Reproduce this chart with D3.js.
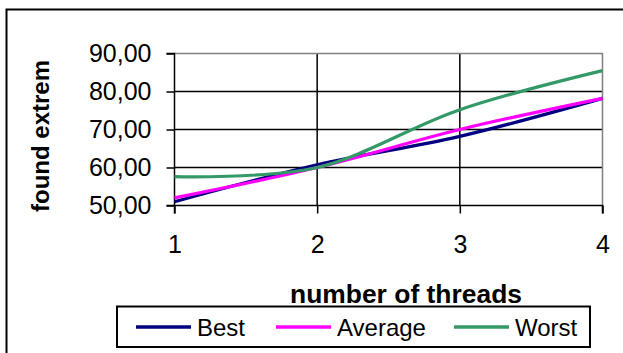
<!DOCTYPE html>
<html><head><meta charset="utf-8">
<script src="https://cdn.jsdelivr.net/npm/d3@7"></script>
<style>html,body{margin:0;padding:0;background:#fff;overflow:hidden}svg{display:block}text{font-family:"Liberation Sans",Arial,sans-serif}</style>
</head><body>
<script>
const threads = [1, 2, 3, 4];
const yTicks = [50, 60, 70, 80, 90];
const seriesNames = ["Best", "Average", "Worst"];
const best = [51.0, 60.7, 68.2, 78.2];
const average = [52.0, 60.0, 70.0, 78.2];
const worst = [57.6, 60.0, 75.2, 85.5];
const colors = ["#000080", "#FF00FF", "#339966"];
const xTitle = "number of threads";
const yTitle = "found extrem";

const W = 623, H = 353;
const svg = d3.select("body").append("svg").attr("width", W).attr("height", H);
svg.append("rect").attr("width", W).attr("height", H).attr("fill", "#fff");
// outer chart border (extends past right/bottom)
svg.append("rect").attr("x", 6.5).attr("y", 9.5).attr("width", 700).attr("height", 400)
  .attr("fill", "none").attr("stroke", "#000").attr("stroke-width", 2);

const x = d3.scaleLinear().domain([1, 4]).range([174.5, 602.5]);
const y = d3.scaleLinear().domain([50, 90]).range([205.5, 53.5]);

const fmt = v => d3.format(".2f")(v).replace(".", ",");

// gridlines
const g = svg.append("g");
g.selectAll("line.hg").data(yTicks.filter(v => v > 50 && v < 90)).join("line")
  .attr("x1", x(1)).attr("x2", x(4)).attr("y1", d => y(d)).attr("y2", d => y(d))
  .attr("stroke", "#000").attr("stroke-width", 1.5);
g.selectAll("line.vg").data(threads.filter(v => v > 1 && v < 4)).join("line")
  .attr("y1", y(50)).attr("y2", y(90)).attr("x1", d => x(d)).attr("x2", d => x(d))
  .attr("stroke", "#000").attr("stroke-width", 1.5);
// plot border top/right gray
g.append("path").attr("d", `M${x(1)},${y(90)}H${x(4)}V${y(50)}`)
  .attr("fill", "none").attr("stroke", "#808080").attr("stroke-width", 1.5);

// axes
const yAxis = d3.axisLeft(y).tickValues(yTicks).tickFormat(fmt).tickSize(8).tickPadding(15);
const ya = svg.append("g").attr("transform", `translate(${x(1)},0)`).call(yAxis);
const xAxis = d3.axisBottom(x).tickValues(threads).tickFormat(d3.format("d")).tickSize(8).tickPadding(22);
const xa = svg.append("g").attr("transform", `translate(0,${y(50)})`).call(xAxis);
[ya, xa].forEach(a => {
  a.select(".domain").attr("stroke", "#000").attr("stroke-width", 1.5);
  a.selectAll(".tick line").attr("stroke", "#000").attr("stroke-width", 1.5);
  a.selectAll(".tick text").attr("fill", "#000").style("font-size", "25px")
    .style("font-family", '"Liberation Sans", Arial, sans-serif');
});
xa.select(".domain").attr("d", `M${x(1)},8V0H${x(4)}V8`);
ya.select(".domain").attr("d", `M-8,${y(90)}H0V${y(50)}H-8`);

// lines
const allSeries = [best, average, worst];
const line = d3.line().x((d, i) => x(threads[i])).y(d => y(d)).curve(d3.curveCardinal.tension(0));
svg.append("g").selectAll("path").data(allSeries).join("path")
  .attr("d", d => line(d)).attr("fill", "none")
  .attr("stroke", (d, i) => colors[i]).attr("stroke-width", 3.2)
  .attr("stroke-linejoin", "round");

// titles
svg.append("text").attr("x", 406).attr("y", 303).attr("text-anchor", "middle")
  .style("font-size", "25px").style("font-weight", "bold").attr("textLength", 232)
  .attr("lengthAdjust", "spacingAndGlyphs").text(xTitle);
svg.append("text").attr("transform", "translate(49,136) rotate(-90)").attr("text-anchor", "middle")
  .style("font-size", "24px").style("font-weight", "bold").text(yTitle);

// legend
const leg = svg.append("g");
leg.append("rect").attr("x", 117).attr("y", 306.5).attr("width", 473).attr("height", 40.5)
  .attr("fill", "#fff").attr("stroke", "#000").attr("stroke-width", 2);
const legX = [136, 276, 454];
const items = leg.selectAll("g.item").data(seriesNames).join("g")
  .attr("transform", (d, i) => `translate(${legX[i]},327)`);
items.append("line").attr("x1", 0).attr("x2", 55).attr("y1", 0).attr("y2", 0)
  .attr("stroke", (d, i) => colors[i]).attr("stroke-width", 3.5);
items.append("text").attr("x", 61).attr("y", 9).style("font-size", "24px").attr("fill", "#000").text(d => d);
</script>
</body></html>
